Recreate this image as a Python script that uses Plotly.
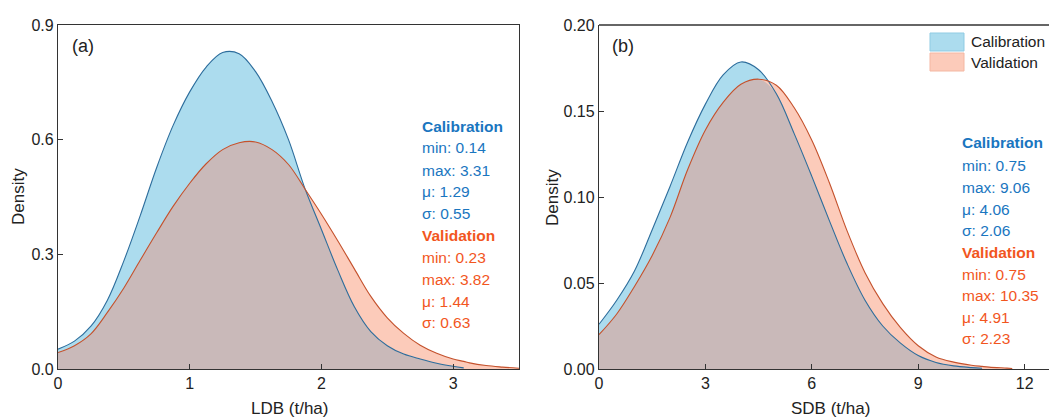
import plotly.graph_objects as go

# ---------------- data ----------------
# Panel (a): LDB density curves
ldb_x = [0.0, 0.125, 0.25, 0.375, 0.5, 0.625, 0.75, 0.875, 1.0, 1.125, 1.25, 1.375,
         1.5, 1.625, 1.75, 1.875, 2.0, 2.125, 2.25, 2.375, 2.5, 2.625, 2.75, 2.875,
         3.0, 3.08, 3.125, 3.25, 3.375, 3.5]
ldb_cal = [0.052, 0.073, 0.112, 0.180, 0.283, 0.402, 0.528, 0.638, 0.725, 0.790, 0.828, 0.825,
           0.778, 0.700, 0.600, 0.472, 0.365, 0.258, 0.163, 0.098, 0.061, 0.039, 0.026, 0.015,
           0.007, 0.003, None, None, None, None]
ldb_val = [0.043, 0.061, 0.092, 0.148, 0.212, 0.285, 0.357, 0.426, 0.486, 0.537, 0.574, 0.592,
           0.594, 0.574, 0.535, 0.471, 0.405, 0.335, 0.262, 0.190, 0.134, 0.093, 0.062, 0.041,
           0.026, 0.020, 0.016, 0.009, 0.005, 0.002]

# Panel (b): SDB density curves
sdb_x = [0.0, 0.5, 1.0, 1.5, 2.0, 2.5, 3.0, 3.5, 4.0, 4.5, 5.0, 5.5, 6.0, 6.5, 7.0, 7.5,
         8.0, 8.5, 9.0, 9.5, 10.0, 10.5, 10.8, 11.0, 11.5, 11.65]
sdb_cal = [0.026, 0.040, 0.057, 0.081, 0.106, 0.132, 0.154, 0.171, 0.1785, 0.174, 0.160, 0.137,
           0.112, 0.086, 0.061, 0.040, 0.025, 0.015, 0.0078, 0.0038, 0.0018, 0.0008, 0.0004,
           None, None, None]
sdb_val = [0.020, 0.032, 0.048, 0.066, 0.088, 0.116, 0.139, 0.155, 0.1655, 0.1685, 0.165, 0.152,
           0.133, 0.108, 0.080, 0.056, 0.038, 0.024, 0.0135, 0.0070, 0.0040, 0.0022, 0.0015,
           0.0011, 0.0005, 0.0003]

# Summary statistics: min, max, mean, std
ldb_cal_stats = [0.14, 3.31, 1.29, 0.55]
ldb_val_stats = [0.23, 3.82, 1.44, 0.63]
sdb_cal_stats = [0.75, 9.06, 4.06, 2.06]
sdb_val_stats = [0.75, 10.35, 4.91, 2.23]

ldb_ticks = [0, 1, 2, 3]
sdb_ticks = [0, 3, 6, 9, 12]
ldb_yticks = [0.0, 0.3, 0.6, 0.9]
sdb_yticks = [0.00, 0.05, 0.10, 0.15, 0.20]

# ---------------- styling ----------------
W, H = 1049, 418
FONT = "Liberation Sans, Arial, sans-serif"
CAL_FILL = "#acdcee"
VAL_FILL = "#fccbba"
OVL_FILL = "#c9b9b9"
CAL_LINE = "#2d6d9c"
VAL_LINE = "#c4512c"
CAL_TXT = "#1a76bf"
VAL_TXT = "#f2561e"
AX = "#333333"


def px(x):
    return x / W


def py(y):
    return 1 - y / H


def overlap(a, b):
    out = []
    for u, v in zip(a, b):
        if u is None or v is None:
            out.append(None)
        else:
            out.append(min(u, v))
    return out


fig = go.Figure()


def add_panel(x, cal, val, xa, ya):
    common = dict(xaxis=xa, yaxis=ya, mode="lines", showlegend=False,
                  hoverinfo="skip", line_shape="spline", fill="tozeroy")
    fig.add_trace(go.Scatter(x=x, y=cal, line=dict(width=0, color=CAL_FILL),
                             fillcolor=CAL_FILL, **common))
    fig.add_trace(go.Scatter(x=x, y=val, line=dict(width=0, color=VAL_FILL),
                             fillcolor=VAL_FILL, **common))
    fig.add_trace(go.Scatter(x=x, y=overlap(cal, val), line=dict(width=0, color=OVL_FILL),
                             fillcolor=OVL_FILL, **common))
    line_common = dict(xaxis=xa, yaxis=ya, mode="lines", showlegend=False,
                       hoverinfo="skip", line_shape="spline")
    fig.add_trace(go.Scatter(x=x, y=cal, line=dict(width=1.1, color=CAL_LINE), **line_common))
    fig.add_trace(go.Scatter(x=x, y=val, line=dict(width=1.1, color=VAL_LINE), **line_common))


add_panel(ldb_x, ldb_cal, ldb_val, "x", "y")
add_panel(sdb_x, sdb_cal, sdb_val, "x2", "y2")

axis_common = dict(showgrid=False, zeroline=False, showline=True, linecolor=AX, linewidth=1.3,
                   ticks="inside", ticklen=5, tickwidth=1.2, tickcolor=AX, automargin=False,
                   tickfont=dict(family=FONT, size=16, color="#222222"))

TOP, BOTTOM = 25, 369
fig.update_layout(
    width=W, height=H, margin=dict(l=0, r=0, t=0, b=0, pad=0),
    paper_bgcolor="white", plot_bgcolor="white", showlegend=False,
    xaxis=dict(domain=[px(58), px(519)], range=[0, 3.5], tickvals=ldb_ticks,
               mirror=True, anchor="y", **axis_common),
    yaxis=dict(domain=[py(BOTTOM), py(TOP)], range=[0, 0.9], tickvals=ldb_yticks,
               tickformat=".1f", mirror=True, anchor="x", **axis_common),
    xaxis2=dict(domain=[px(599), 1.0], range=[0, 450 / 35.47], tickvals=sdb_ticks,
                anchor="y2", **axis_common),
    yaxis2=dict(domain=[py(BOTTOM), py(TOP)], range=[0, 0.2], tickvals=sdb_yticks,
                tickformat=".2f", anchor="x2", **axis_common),
)

# top border of panel (b)
fig.add_shape(type="line", xref="paper", yref="paper", x0=px(599), x1=1.0,
              y0=py(TOP), y1=py(TOP), line=dict(color=AX, width=1.3))

annotations = []


def text(x, y, s, size=15, color="#222222", bold=False, xanchor="left", angle=0):
    annotations.append(dict(
        x=px(x), y=py(y), xref="paper", yref="paper", text=f"<b>{s}</b>" if bold else s,
        showarrow=False, xanchor=xanchor, yanchor="middle", textangle=angle,
        font=dict(family=FONT, size=size, color=color)))


def stats_block(x, ys, cal_stats, val_stats):
    labels = ["min", "max", "μ", "σ"]
    text(x, ys[0], "Calibration", 15.5, CAL_TXT, bold=True)
    for i, (lab, v) in enumerate(zip(labels, cal_stats)):
        text(x, ys[1 + i], f"{lab}: {v:.2f}", 15.5, CAL_TXT)
    text(x, ys[5], "Validation", 15.5, VAL_TXT, bold=True)
    for i, (lab, v) in enumerate(zip(labels, val_stats)):
        text(x, ys[6 + i], f"{lab}: {v:.2f}", 15.5, VAL_TXT)


stats_block(420, [126, 147, 170, 192, 213, 235, 257, 279, 301, 322], ldb_cal_stats, ldb_val_stats)
stats_block(960, [143, 165, 187, 209, 230, 252, 274, 295, 317, 338], sdb_cal_stats, sdb_val_stats)

text(70, 46, "(a)", 18)
text(610, 46, "(b)", 18)
text(18, 197, "Density", 17, xanchor="center", angle=-90)
text(552, 197, "Density", 17, xanchor="center", angle=-90)
text(289, 408, "LDB (t/ha)", 17, xanchor="center")
text(830, 408, "SDB (t/ha)", 17, xanchor="center")

# legend for panel (b)
for (y0, y1, fc, lc, lab) in [(33, 51, CAL_FILL, "#8fcbe3", "Calibration"),
                              (53, 71, VAL_FILL, "#f4b7a2", "Validation")]:
    fig.add_shape(type="rect", xref="paper", yref="paper", x0=px(930), x1=px(964),
                  y0=py(y1), y1=py(y0), fillcolor=fc, line=dict(color=lc, width=1))
    text(969, (y0 + y1) / 2, lab, 15.5)

fig.update_layout(annotations=annotations)
fig.write_html("out.html")
